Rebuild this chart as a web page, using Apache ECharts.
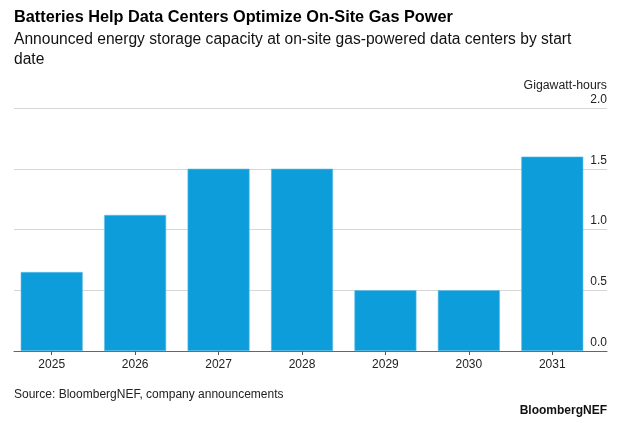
<!DOCTYPE html>
<html>
<head>
<meta charset="utf-8">
<script src="https://cdn.jsdelivr.net/npm/echarts@6/dist/echarts.min.js"></script>
<style>
  html, body { margin: 0; padding: 0; background: #fff; }
  #chart { width: 622px; height: 423px; }
</style>
</head>
<body>
<div id="chart"></div>
<script>
// data
var years = ['2025', '2026', '2027', '2028', '2029', '2030', '2031'];
var storageGwh = [0.65, 1.12, 1.5, 1.5, 0.5, 0.5, 1.6];
var yTicks = [0, 0.5, 1.0, 1.5, 2.0];

var FONT = '"Liberation Sans", Arial, sans-serif';
var chart = echarts.init(document.getElementById('chart'));

chart.setOption({
    animation: false,
    backgroundColor: '#fff',
    title: [
        {
            text: 'Batteries Help Data Centers Optimize On-Site Gas Power',
            left: 14, top: 10, padding: 0,
            textStyle: { fontFamily: FONT, fontSize: 16.3, fontWeight: 'bold', color: '#000' }
        },
        {
            text: 'Announced energy storage capacity at on-site gas-powered data centers by start\ndate',
            left: 14, top: 30, padding: 0,
            textStyle: { fontFamily: FONT, fontSize: 15.6, fontWeight: 'normal', color: '#111', lineHeight: 20 }
        },
        {
            text: 'Gigawatt-hours',
            right: 15, top: 80, padding: 0,
            textStyle: { fontFamily: FONT, fontSize: 12.3, fontWeight: 'normal', color: '#222' }
        },
        {
            text: 'Source: BloombergNEF, company announcements',
            left: 14, top: 389, padding: 0,
            textStyle: { fontFamily: FONT, fontSize: 12, fontWeight: 'normal', color: '#222' }
        },
        {
            text: 'BloombergNEF',
            right: 15, top: 405, padding: 0,
            textStyle: { fontFamily: FONT, fontSize: 12, fontWeight: 'bold', color: '#111' }
        }
    ],
    grid: [
        // bars
        { left: 10, right: 28, top: 108, bottom: 72 },
        // gridlines, right axis labels and baseline
        { left: 14, right: 15, top: 108, bottom: 72 }
    ],
    xAxis: [
        {
            type: 'category', gridIndex: 0, data: years,
            axisLine: { show: false },
            axisTick: { show: true, alignWithLabel: true, length: 4, lineStyle: { color: '#555' } },
            axisLabel: { fontFamily: FONT, fontSize: 12, color: '#222', margin: 8 }
        },
        {
            type: 'value', gridIndex: 1, min: 0, max: 1,
            axisLine: { show: true, onZero: false, lineStyle: { color: '#666', width: 1.2 } },
            axisTick: { show: false }, axisLabel: { show: false }, splitLine: { show: false }
        }
    ],
    yAxis: [
        {
            type: 'value', gridIndex: 0, min: 0, max: 2,
            show: false
        },
        {
            type: 'value', gridIndex: 1, position: 'right',
            min: yTicks[0], max: yTicks[yTicks.length - 1], interval: 0.5,
            axisLine: { show: false }, axisTick: { show: false },
            axisLabel: {
                inside: true, margin: 0, verticalAlign: 'bottom', lineHeight: 17,
                fontFamily: FONT, fontSize: 12, color: '#222',
                formatter: function (v) { return v.toFixed(1); }
            },
            splitLine: { show: true, lineStyle: { color: '#d6d6d6', width: 1.2 } }
        }
    ],
    series: [{
        type: 'bar',
        xAxisIndex: 0, yAxisIndex: 0,
        data: storageGwh,
        barCategoryGap: '25.7%',
        itemStyle: { color: '#0d9ddb', borderColor: '#5fbfe8', borderWidth: 0.6 },
        z: 3
    }]
});
</script>
</body>
</html>
